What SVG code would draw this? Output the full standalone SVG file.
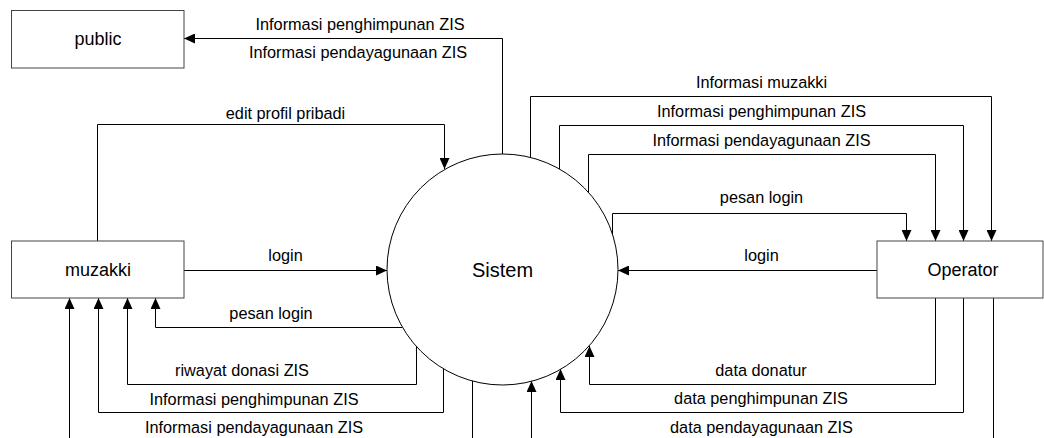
<svg xmlns="http://www.w3.org/2000/svg" width="1044" height="438" viewBox="0 0 1044 438">
<style>
.box{fill:#fff;stroke:#444;stroke-width:1}
.proc{fill:#fff;stroke:#000;stroke-width:1}
.ent{font-family:"Liberation Sans",Arial,sans-serif;font-size:18px;fill:#000;text-anchor:middle}
.sys{font-family:"Liberation Sans",Arial,sans-serif;font-size:20px;fill:#000;text-anchor:middle}
.lbl{font-family:"Liberation Sans",Arial,sans-serif;font-size:16.3px;fill:#000;text-anchor:middle}
.c{fill:none;stroke:#000;stroke-width:1}
.ca{fill:none;stroke:#000;stroke-width:1;marker-end:url(#ah)}
</style>
<defs>
<marker id="ah" viewBox="0 0 11 10" refX="11" refY="5" markerWidth="11" markerHeight="10" markerUnits="userSpaceOnUse" orient="auto">
<path d="M0,0 L11,5 L0,10 z" fill="#000"/>
</marker>
</defs>
<rect width="1044" height="438" fill="#fff"/>
<g id="connectors">
<path class="ca" d="M502.5,154 V38.5 H184"/>
<path class="ca" d="M97.5,241 V124.5 H444.5 V169"/>
<path class="ca" d="M184,270.5 H387"/>
<path class="ca" d="M402,327.5 H155.5 V298"/>
<path class="ca" d="M416.5,346 V384.5 H127.5 V298"/>
<path class="ca" d="M443.5,369 V412.5 H98.5 V298"/>
<path class="c" d="M472.5,381 V438"/>
<path class="ca" d="M69.5,438 V298"/>
<path class="ca" d="M877,270.5 H618"/>
<path class="ca" d="M935.5,298 V384.5 H589.5 V346"/>
<path class="ca" d="M963.5,298 V412.5 H560.5 V369"/>
<path class="c" d="M993.5,298 V438"/>
<path class="ca" d="M531.5,438 V381"/>
<path class="ca" d="M530.5,158 V96.5 H991.5 V241"/>
<path class="ca" d="M559.5,169 V125.5 H963.5 V241"/>
<path class="ca" d="M588.5,193 V154.5 H935.5 V241"/>
<path class="ca" d="M612.5,238 V213.5 H906.5 V241"/>
</g>
<g id="labels">
<text class="lbl" x="360" y="29.5">Informasi penghimpunan ZIS</text>
<text class="lbl" x="358" y="58">Informasi pendayagunaan ZIS</text>
<text class="lbl" x="285.5" y="118.5">edit profil pribadi</text>
<text class="lbl" x="285.5" y="260.5">login</text>
<text class="lbl" x="271" y="318.5">pesan login</text>
<text class="lbl" x="242" y="375.5">riwayat donasi ZIS</text>
<text class="lbl" x="254" y="404.5">Informasi penghimpunan ZIS</text>
<text class="lbl" x="254" y="433">Informasi pendayagunaan ZIS</text>
<text class="lbl" x="761.5" y="88">Informasi muzakki</text>
<text class="lbl" x="761.5" y="116.5">Informasi penghimpunan ZIS</text>
<text class="lbl" x="761.5" y="145.5">Informasi pendayagunaan ZIS</text>
<text class="lbl" x="761.5" y="202.5">pesan login</text>
<text class="lbl" x="761.5" y="260.5">login</text>
<text class="lbl" x="761" y="375.5">data donatur</text>
<text class="lbl" x="761" y="404">data penghimpunan ZIS</text>
<text class="lbl" x="761.5" y="433">data pendayagunaan ZIS</text>
</g>
<g id="public">
<rect class="box" x="11.5" y="10.5" width="172.5" height="57.5"/>
<text class="ent" x="98" y="45">public</text>
</g>
<g id="muzakki">
<rect class="box" x="11.5" y="241" width="172.5" height="57"/>
<text class="ent" x="98" y="276">muzakki</text>
</g>
<g id="operator">
<rect class="box" x="877" y="241" width="166" height="57"/>
<text class="ent" x="963" y="276">Operator</text>
</g>
<g id="sistem">
<circle class="proc" cx="502.5" cy="269.5" r="115.5"/>
<text class="sys" x="502.5" y="277">Sistem</text>
</g>
</svg>
